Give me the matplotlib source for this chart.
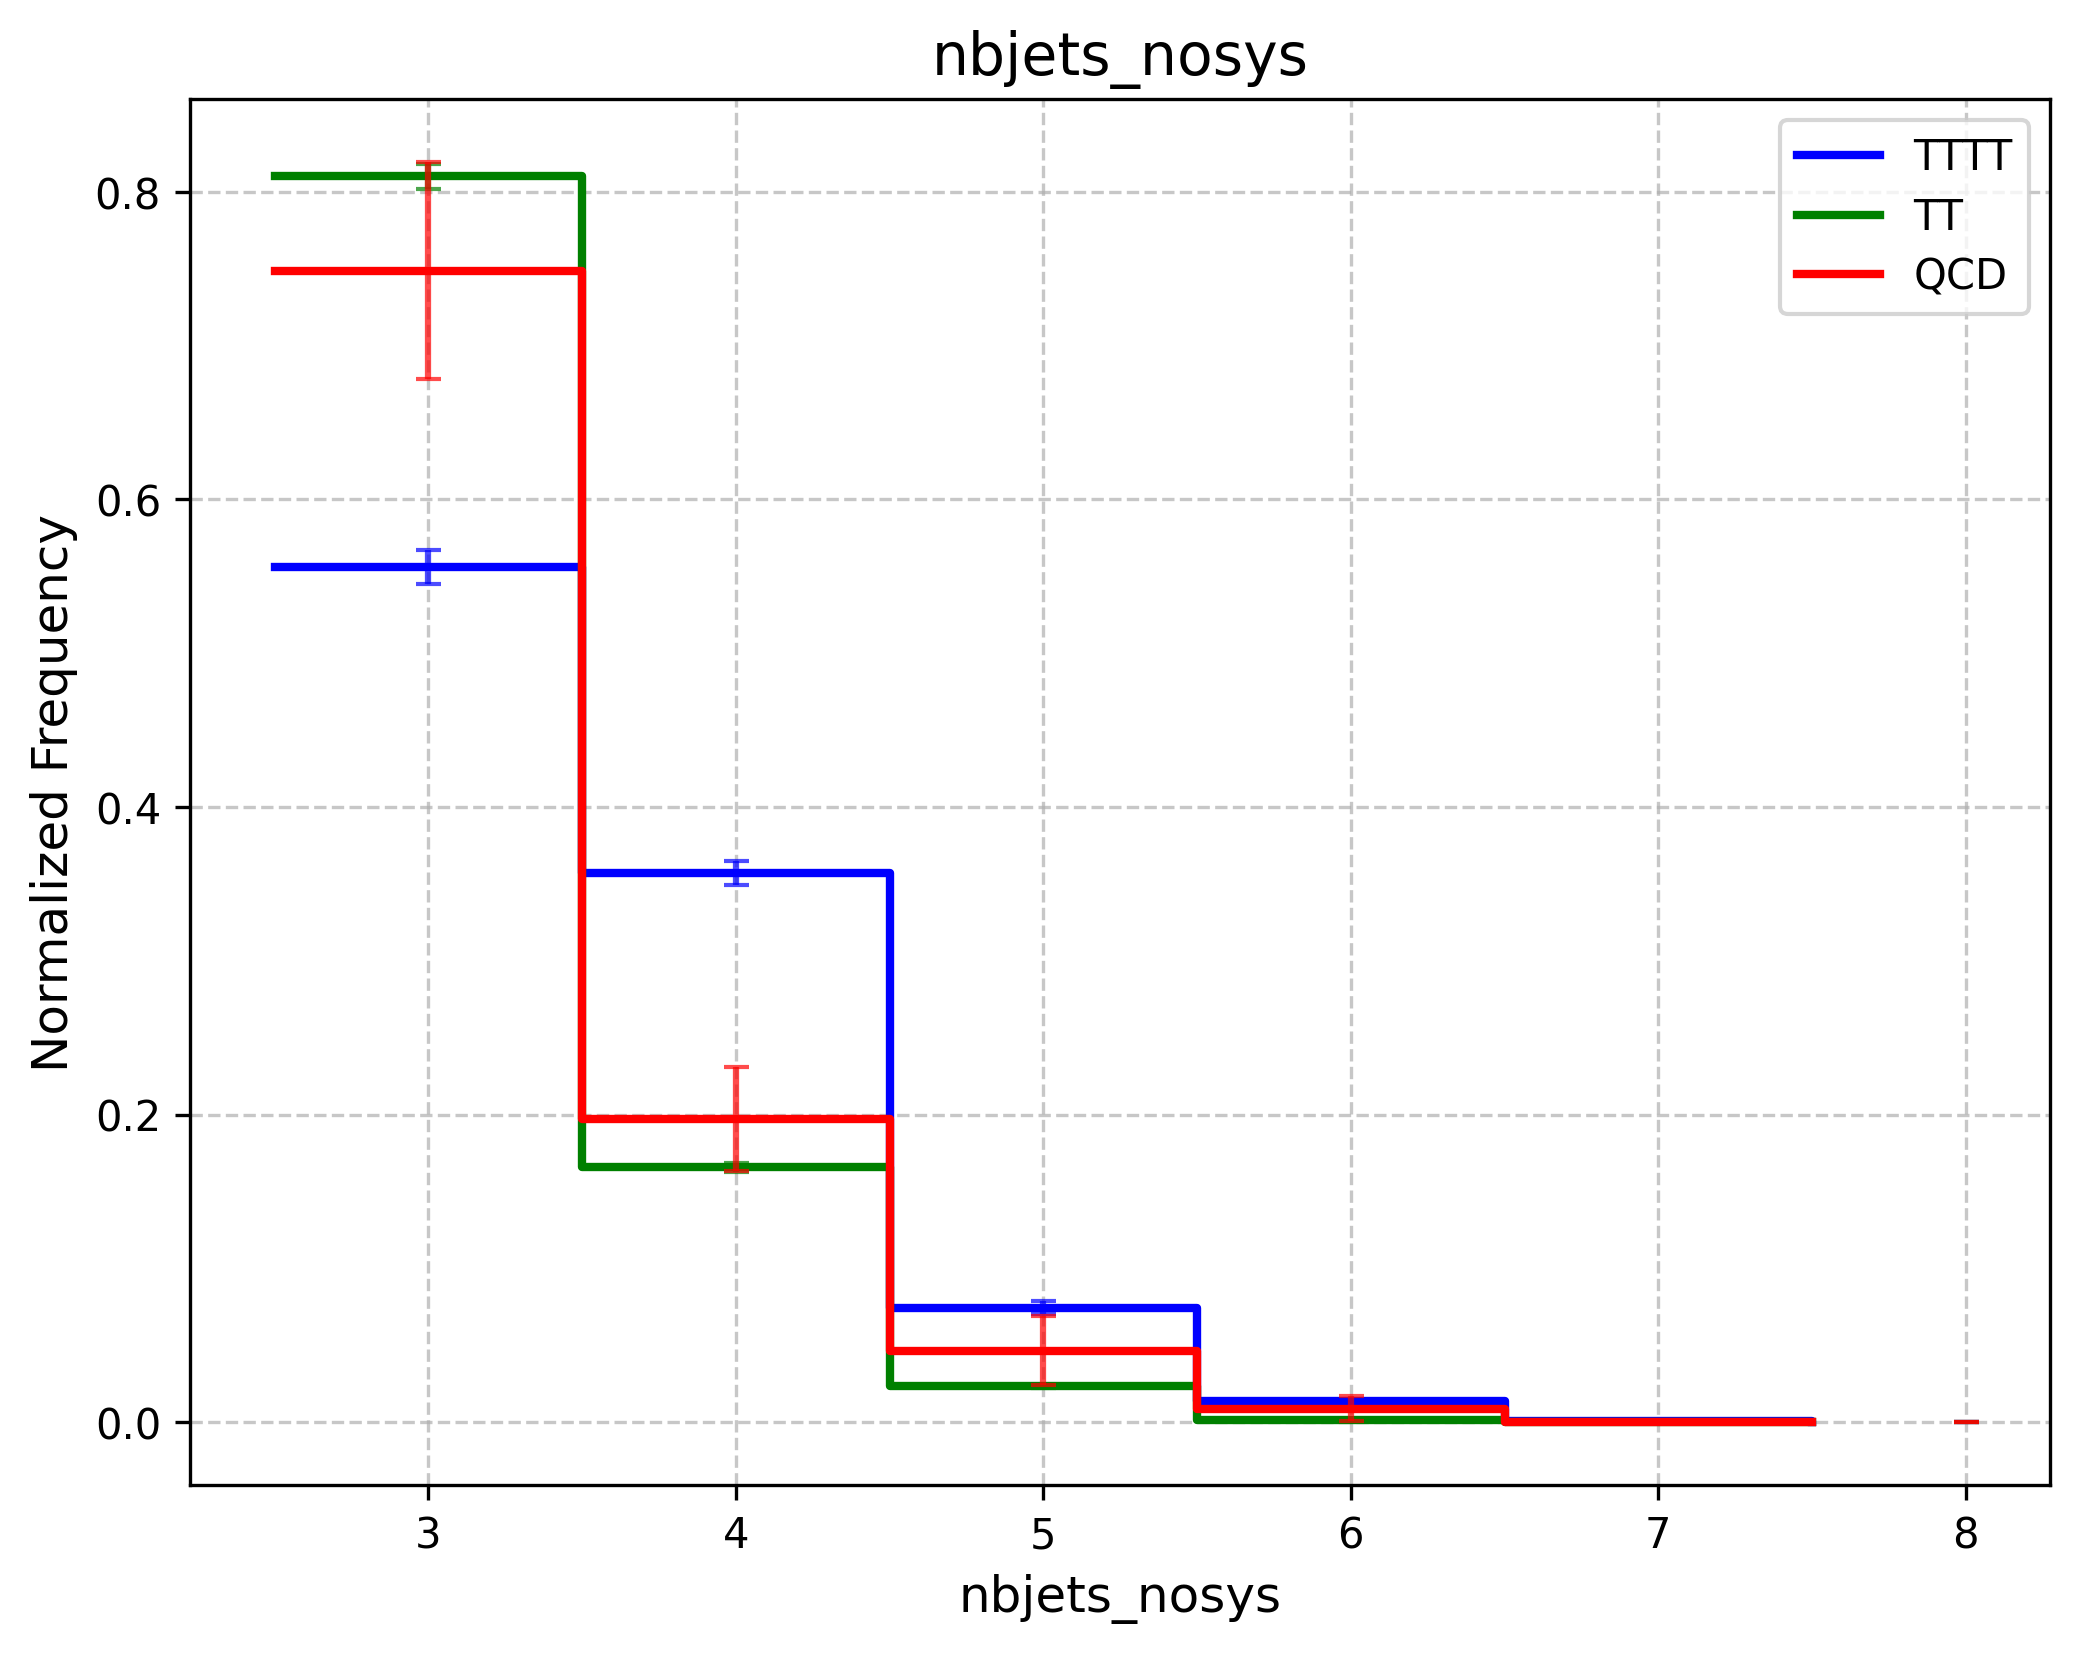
import numpy as np
import matplotlib
matplotlib.use("Agg")
import matplotlib.pyplot as plt

# bin centres (number of b-jets) and normalised frequencies per sample
centers = np.array([3, 4, 5, 6, 7, 8])
edges = np.array([2.5, 3.5, 4.5, 5.5, 6.5, 7.5, 8.5])

tttt = [0.556, 0.357, 0.0745, 0.0137, 0.0005, 0.0]
tttt_err = [0.011, 0.008, 0.004, 0.0015, 0.0003, 0.0]
tt = [0.810, 0.1657, 0.0233, 0.0013, 0.0, 0.0]
tt_err = [0.008, 0.003, 0.001, 0.0003, 0.0, 0.0]
qcd = [0.7487, 0.1972, 0.0465, 0.0087, 0.0, 0.0]
qcd_err = [0.0706, 0.0337, 0.0223, 0.0082, 0.0, 0.0]

samples = ["TTTT", "TT", "QCD"]
colors = ["blue", "green", "red"]
values = [tttt, tt, qcd]
errors = [tttt_err, tt_err, qcd_err]

fig, ax = plt.subplots(figsize=(8, 6))

for name, col, vals, errs in zip(samples, colors, values, errors):
    ax.step(edges[:-1], vals, where="post", color=col, linewidth=2, label=name)
    ax.errorbar(centers, vals, yerr=errs, fmt="none", ecolor=col,
                capsize=3, alpha=0.7)

ax.set_title("nbjets_nosys", fontsize=14)
ax.set_xlabel("nbjets_nosys", fontsize=12)
ax.set_ylabel("Normalized Frequency", fontsize=12)
ax.grid(True, linestyle="--", alpha=0.7)
ax.legend(labelspacing=0.42)

plt.savefig("out.png", dpi=300, bbox_inches="tight")
